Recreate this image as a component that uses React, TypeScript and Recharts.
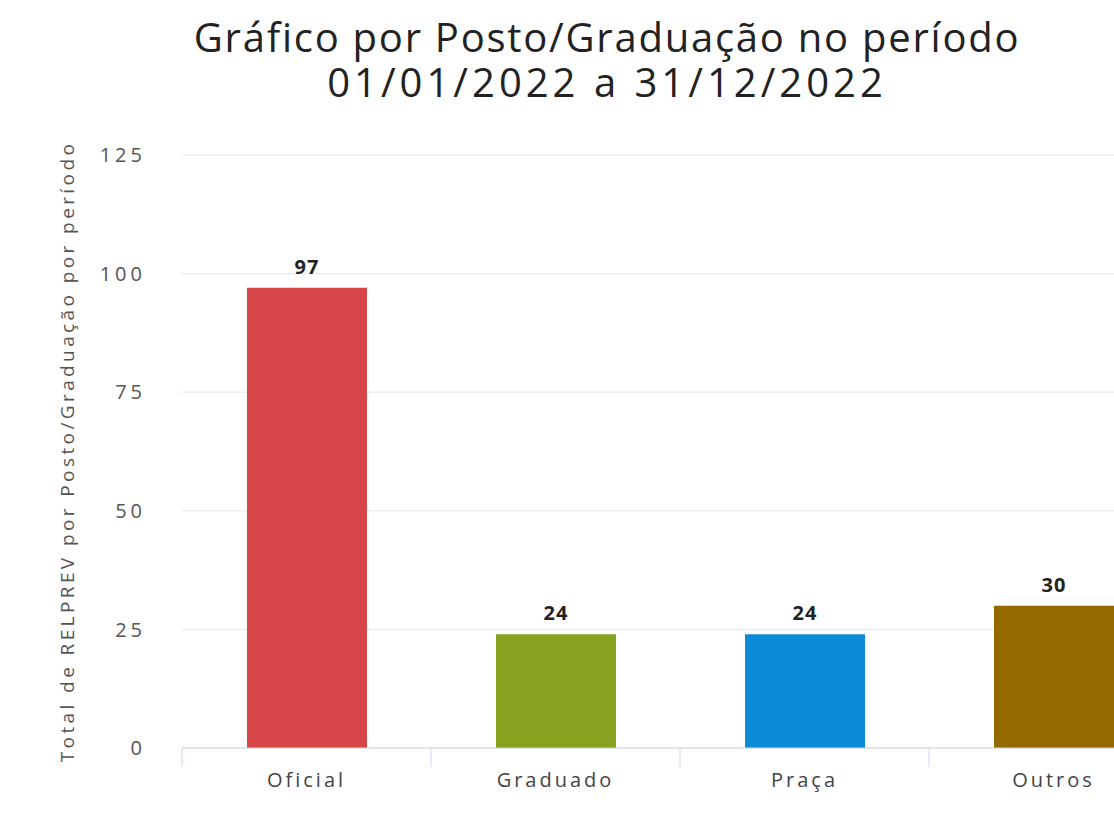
import React from 'react';
import { BarChart, Bar, XAxis, YAxis, CartesianGrid, LabelList, Cell } from 'recharts';

const categories = ['Oficial', 'Graduado', 'Praça', 'Outros'];
const values = [97, 24, 24, 30];
const colors = ['#d84548', '#87a21f', '#0b8ad6', '#946a00'];
const yTicks = [0, 25, 50, 75, 100, 125];
const titleLines = ['Gráfico por Posto/Graduação no período', '01/01/2022 a 31/12/2022'];
const yAxisTitle = 'Total de RELPREV por Posto/Graduação por período';

const data = categories.map((name, i) => ({ name, value: values[i] }));

const CHART_W = 1180;
const CHART_H = 818;
const MARGIN = { top: 155, right: 2, left: 0, bottom: 40 };
const Y_W = 182;
const BAND = (CHART_W - MARGIN.right - MARGIN.left - Y_W) / categories.length;

const FONT = '"Open Sans", sans-serif';

const XTick = (props: any) => {
  const { x, y, payload } = props;
  return (
    <g>
      <line x1={x - BAND / 2} x2={x - BAND / 2} y1={y} y2={y + 19} stroke="#ccd6eb" strokeWidth={1} />
      <text
        x={x}
        y={y + 39}
        textAnchor="middle"
        fill="#444"
        fontSize={20}
        fontFamily={FONT}
        letterSpacing={3}
      >
        {payload.value}
      </text>
    </g>
  );
};

const YLabel = (props: any) => {
  const vb = props.viewBox || { x: 0, y: 155, width: 182, height: 593 };
  const cx = 67;
  const cy = vb.y + vb.height / 2;
  return (
    <text
      x={cx}
      y={cy}
      transform={`rotate(-90 ${cx} ${cy})`}
      textAnchor="middle"
      dominantBaseline="central"
      fill="#555"
      fontSize={19}
      fontFamily={FONT}
      letterSpacing={3.4}
    >
      {yAxisTitle}
    </text>
  );
};

export default function App() {
  return (
    <div
      style={{
        position: 'absolute',
        left: 0,
        top: 0,
        width: 1114,
        height: 818,
        overflow: 'hidden',
        background: '#fff',
      }}
    >
      <div
        style={{
          position: 'absolute',
          left: 0,
          top: 14,
          width: 1214,
          textAlign: 'center',
          fontFamily: FONT,
          fontSize: 40,
          lineHeight: '45px',
          color: '#222',
        }}
      >
        {titleLines.map((t, i) => (
          <div key={i} style={{ letterSpacing: i === 1 ? 4 : 1.75, whiteSpace: 'nowrap' }}>{t}</div>
        ))}
      </div>
      <div style={{ position: 'absolute', left: 0, top: 0 }}>
        <BarChart width={CHART_W} height={CHART_H} data={data} margin={MARGIN}>
          <CartesianGrid vertical={false} stroke="#e6e6e6" strokeDasharray="0" />
          <XAxis
            dataKey="name"
            height={30}
            axisLine={{ stroke: '#ccd6eb' }}
            tickLine={false}
            tickSize={0}
            tickMargin={0}
            tick={<XTick />}
            interval={0}
          />
          <YAxis
            width={Y_W}
            domain={[0, 125]}
            ticks={yTicks}
            axisLine={false}
            tickLine={false}
            tickSize={0}
            tickMargin={36}
            tick={{ fill: '#555', fontSize: 20, fontFamily: FONT, letterSpacing: 4 }}
            label={<YLabel />}
          />
          <Bar dataKey="value" barSize={120} isAnimationActive={false}>
            {data.map((d, i) => (
              <Cell key={d.name} fill={colors[i]} />
            ))}
            <LabelList
              dataKey="value"
              position="top"
              offset={14}
              fill="#222"
              fontSize={20}
              fontWeight="bold"
              fontFamily={FONT}
              letterSpacing={1}
            />
          </Bar>
        </BarChart>
      </div>
    </div>
  );
}
